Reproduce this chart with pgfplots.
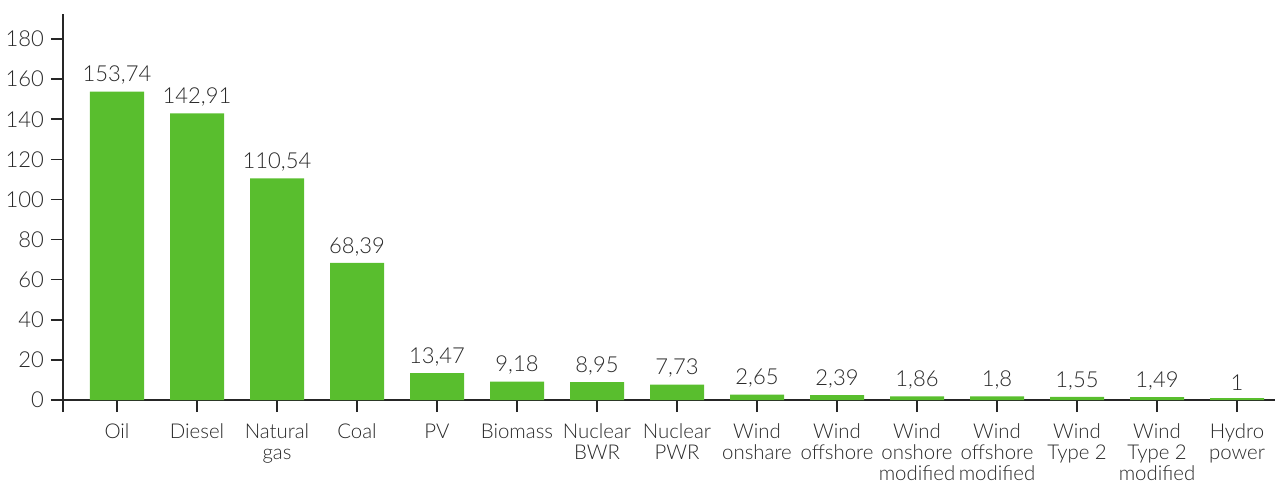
\documentclass[border=0pt]{standalone}
\usepackage{pgfplots}
\pgfplotsset{compat=1.18}
\usepackage{fontspec}
\setmainfont{Lato}[UprightFont=* Light]
\usetikzlibrary{calc}
\definecolor{bargreen}{RGB}{89,190,46}
\definecolor{txt}{RGB}{40,40,40}
\begin{document}
\begin{tikzpicture}
\begin{axis}[name=ax, at={(0,0)}, anchor=south west,
 scale only axis, width=606pt, height=193pt,
 xmin=-0.675, xmax=14.475, ymin=0, ymax=192.5,
 axis x line*=bottom, axis y line*=left,
 axis line style={line width=0.8pt, black!85, -},
 ytick={0,20,...,180},
 xtick={0,...,14},
 xticklabels={Oil,Diesel,Natural\\gas,Coal,PV,Biomass,Nuclear\\BWR,Nuclear\\PWR,Wind\\onshare,Wind\\offshore,Wind\\onshore\\modified,Wind\\offshore\\modified,Wind\\Type 2,Wind\\Type 2\\modified,Hydro\\power},
 extra x ticks={-0.675}, extra x tick labels={},
 x tick label style={align=center, text=txt, font=\fontsize{10.2}{10.4}\selectfont, yshift=-2.5pt},
 y tick label style={text=txt, font=\fontsize{11}{12}\selectfont},
 tick style={line width=0.8pt, black!85},
 major tick length=6pt,
 tick align=outside,
 ybar, bar width=27pt,
 nodes near coords,
 every node near coord/.append style={font=\fontsize{11}{12}\selectfont, text=txt},
 /pgf/number format/.cd, use comma, assume math mode=true
]
\addplot[fill=bargreen, draw=none] coordinates {
(0,153.74) (1,142.91) (2,110.54) (3,68.39) (4,13.47) (5,9.18) (6,8.95) (7,7.73)
(8,2.65) (9,2.39) (10,1.86) (11,1.8) (12,1.55) (13,1.49) (14,1)};
\end{axis}
\pgfresetboundingbox
\path ($(ax.south west)+(-31.5pt,-42pt)$) rectangle ($(ax.north east)+(5pt,7pt)$);
\end{tikzpicture}
\end{document}
